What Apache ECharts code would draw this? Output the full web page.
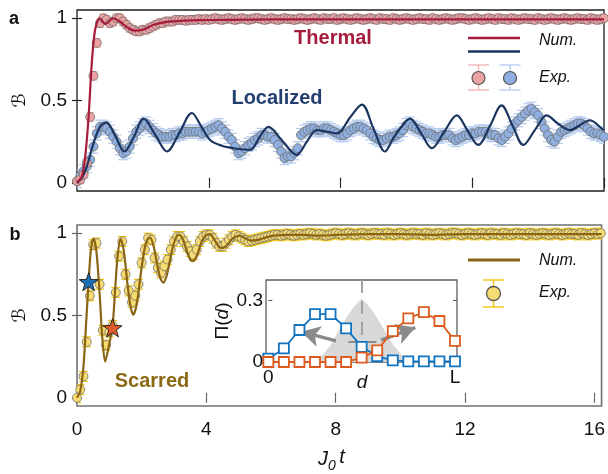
<!DOCTYPE html>
<html>
<head>
<meta charset="utf-8">
<script src="https://cdn.jsdelivr.net/npm/echarts@6/dist/echarts.min.js"></script>
<style>
  html, body { margin: 0; padding: 0; background: #ffffff; }
  #chart { width: 608px; height: 474px; }
</style>
</head>
<body>
<div id="chart"></div>
<script>
// ---------------- data ----------------
// experimental sampling interval (units of J0 t)
const timeStep = 0.1;

// panel a, thermal initial state: measured B(t), t = 0, 0.1, ... 16.0
const thermalExp = [
  0.01,0.02,0.05,0.12,0.40,0.65,0.85,0.97,1.00,0.99,
  0.97,0.98,1.00,1.00,0.98,0.96,0.94,0.93,0.92,0.92,
  0.93,0.93,0.94,0.95,0.96,0.97,0.97,0.98,0.98,0.98,
  0.99,0.99,0.99,0.985,0.99,0.99,0.99,0.995,0.99,0.995,
  0.99,0.995,1.00,0.995,0.99,0.995,1.00,0.995,0.99,0.995,
  1.00,0.995,0.99,0.995,1.00,1.00,0.995,0.99,0.995,1.00,
  0.995,0.99,0.995,1.00,0.995,0.995,0.99,0.995,1.00,0.995,
  0.99,0.995,1.00,0.995,0.99,1.00,0.995,0.995,1.00,0.99,
  0.995,1.00,0.995,0.99,0.995,1.00,0.995,0.99,0.995,1.00,
  0.995,0.99,1.00,0.995,0.995,0.99,1.00,0.995,0.99,0.995,
  1.00,0.995,0.99,0.995,1.00,0.995,0.995,0.99,1.00,0.995,
  0.99,0.995,1.00,0.995,0.99,0.995,1.00,1.00,0.995,0.99,
  0.995,1.00,0.995,0.99,0.995,1.00,0.995,0.99,1.00,0.995,
  0.995,0.99,1.00,0.995,0.99,0.995,1.00,0.995,0.995,0.99,
  1.00,0.995,0.99,0.995,1.00,0.995,0.99,0.995,1.00,0.995,
  0.99,0.995,1.00,0.995,0.995,0.99,1.00,0.995,0.99,0.995,
  1.00
];

// panel a, localized initial state: measured B(t), t = 0 ... 16.0
const localizedExp = [
  0.01,0.04,0.07,0.10,0.14,0.22,0.30,0.34,0.34,0.33,
  0.31,0.28,0.25,0.21,0.18,0.19,0.22,0.27,0.31,0.33,
  0.35,0.36,0.34,0.32,0.30,0.29,0.28,0.28,0.28,0.29,
  0.29,0.30,0.30,0.31,0.31,0.31,0.31,0.31,0.30,
  0.31,0.32,0.33,0.34,0.35,0.33,0.31,0.28,0.26,0.22,
  0.18,0.19,0.21,0.23,0.24,0.26,0.27,0.29,0.29,0.28,
  0.28,0.26,0.23,0.19,0.15,0.16,0.16,0.18,0.21,0.29,
  0.31,0.32,0.33,0.33,0.32,0.32,0.33,0.33,0.32,0.31,
  0.30,0.29,0.29,0.30,0.32,0.33,0.34,0.34,0.33,0.32,
  0.30,0.28,0.27,0.26,0.26,0.27,0.28,0.28,0.29,0.30,
  0.32,0.35,0.36,0.34,0.33,0.32,0.31,0.30,0.30,0.29,
  0.28,0.28,0.29,0.29,0.29,0.27,0.26,0.27,0.28,0.29,
  0.29,0.30,0.30,0.31,0.31,0.31,0.30,0.29,0.29,
  0.27,0.26,0.28,0.30,0.33,0.36,0.38,0.40,0.42,0.44,
  0.45,0.43,0.41,0.37,0.33,0.29,0.26,0.25,0.28,0.31,
  0.32,0.33,0.34,0.35,0.36,0.36,0.35,0.33,0.31,0.30,
  0.30,0.29,0.28
];

// panel b, scarred initial state: measured B(t), t = 0 ... 16.2
const scarredExp = [
  0.00,0.05,0.13,0.34,0.62,0.93,0.94,0.69,0.41,0.32,
  0.40,0.44,0.64,0.86,0.95,0.75,0.65,0.58,0.62,0.69,
  0.82,0.90,0.97,0.96,0.85,0.79,0.76,0.80,0.84,0.90,
  0.95,0.98,0.98,0.95,0.92,0.89,0.87,0.90,0.95,0.98,
  0.99,0.99,0.97,0.94,0.92,0.92,0.94,0.96,0.98,0.99,
  0.98,0.97,0.96,0.95,0.955,0.96,0.965,0.97,0.975,0.98,
  0.985,0.99,0.99,0.985,0.99,0.995,0.99,0.985,0.99,0.995,
  0.99,0.995,1.00,0.995,0.99,0.995,0.99,0.985,0.99,0.995,
  1.00,0.995,0.99,0.995,1.00,0.995,0.99,0.995,1.00,0.995,
  0.99,0.995,1.00,0.995,0.995,0.99,1.00,0.995,0.99,0.995,
  1.00,0.995,0.99,0.995,1.00,0.995,0.995,0.99,1.00,0.995,
  0.99,0.995,1.00,0.995,0.99,0.995,1.00,1.00,0.995,0.99,
  0.995,1.00,0.995,0.99,0.995,1.00,0.995,0.99,1.00,0.995,
  0.995,0.99,1.00,0.995,0.99,0.995,1.00,0.995,0.995,0.99,
  1.00,0.995,0.99,0.995,1.00,0.995,0.99,0.995,1.00,0.995,
  0.99,0.995,1.00,0.995,0.995,0.99,1.00,0.995,0.99,0.995,
  1.00,0.995,1.00
];

// half-heights of the experimental error bars
const thermalErr = 0.025;
const localizedErr = 0.04;
const scarredErr = 0.03;

// numerical simulations [t, B]
const thermalNum = [
  [0,0],[0.15,0.04],[0.25,0.16],[0.35,0.395],[0.45,0.73],[0.55,0.93],[0.69,1.0],
  [0.86,0.965],[1.1,1.0],[1.3,0.98],[1.52,0.945],[1.75,0.925],[2.0,0.93],[2.33,0.96],
  [2.73,0.978],[3.24,0.985],[3.74,0.988],[4.5,0.99],[6,0.993],[8,0.993],[10,0.993],
  [12,0.993],[14,0.993],[16,0.993]
];
const localizedNum = [
  [0,0],[0.15,0.03],[0.3,0.10],[0.5,0.24],[0.7,0.34],[0.89,0.367],[1.15,0.29],[1.44,0.19],
  [1.73,0.28],[2.02,0.39],[2.38,0.29],[2.73,0.19],[3.1,0.30],[3.49,0.424],[3.74,0.354],
  [4.04,0.26],[4.4,0.225],[4.75,0.21],[5.26,0.20],[5.55,0.28],[5.81,0.34],[6.25,0.25],
  [6.67,0.17],[6.98,0.25],[7.28,0.32],[7.6,0.31],[7.89,0.30],[8.3,0.40],[8.65,0.475],
  [9.0,0.33],[9.35,0.19],[9.6,0.27],[9.81,0.33],[10.11,0.39],[10.45,0.30],[10.77,0.21],
  [11.15,0.31],[11.53,0.41],[11.85,0.32],[12.18,0.23],[12.55,0.35],[12.89,0.47],
  [13.22,0.35],[13.55,0.23],[13.9,0.32],[14.26,0.41],[14.6,0.36],[14.97,0.32],
  [15.27,0.35],[15.57,0.38],[15.93,0.33],[16.0,0.32]
];
const scarredNum = [
  [0,0],[0.1,0.04],[0.2,0.19],[0.29,0.48],[0.36,0.705],[0.43,0.90],[0.51,0.968],[0.6,0.89],
  [0.7,0.63],[0.78,0.37],[0.87,0.22],[0.97,0.30],[1.1,0.44],[1.18,0.66],[1.26,0.87],
  [1.35,0.964],[1.45,0.89],[1.55,0.71],[1.65,0.56],[1.74,0.504],[1.85,0.57],[1.95,0.72],
  [2.05,0.86],[2.15,0.95],[2.26,0.974],[2.37,0.92],[2.47,0.82],[2.57,0.73],[2.67,0.70],
  [2.77,0.74],[2.88,0.84],[2.98,0.93],[3.08,0.98],[3.18,0.99],[3.3,0.95],[3.4,0.89],
  [3.5,0.84],[3.59,0.83],[3.7,0.86],[3.82,0.93],[3.95,0.98],[4.1,0.994],[4.25,0.96],
  [4.38,0.92],[4.51,0.91],[4.65,0.93],[4.8,0.965],[5.02,0.985],[5.2,0.97],[5.38,0.955],
  [5.6,0.96],[5.85,0.975],[6.1,0.985],[6.5,0.99],[7,0.99],[7.5,0.985],[8,0.99],[9,0.995],
  [10,0.995],[11,0.99],[12,0.995],[13,0.995],[14,0.995],[15,0.995],[16.22,0.995]
];

// the two marked instants of the scarred evolution [t, B]
const starBlue = [0.36, 0.705];
const starOrange = [1.10, 0.425];

// axis ticks
const timeTicks = [0, 4, 8, 12, 16];
const bTicks = [0, 0.5, 1];

// inset: site distribution Pi(d) at the two marked instants
const sites = [0, 1, 2, 3, 4, 5, 6, 7, 8, 9, 10, 11, 12];
const piBlue = [0.016, 0.066, 0.156, 0.234, 0.234, 0.164, 0.074, 0.028, 0.008, 0.003, 0.003, 0.003, 0.003];
const piOrange = [0, 0, 0, 0, 0, 0, 0.021, 0.057, 0.151, 0.213, 0.243, 0.200, 0.103];
// inset: shaded initial profile
const shadeD = [3, 3.5, 4, 4.5, 5, 5.5, 6, 6.5, 7, 7.5, 8, 8.5, 9];
const shadeVal = [0, 0.035, 0.08, 0.15, 0.215, 0.27, 0.31, 0.27, 0.215, 0.15, 0.085, 0.04, 0];
const insetTicksX = [0, 12];
const insetTicksY = [0, 0.3];
// inset guides: centre line, spread bar, two arrows
const centreLine = [[6, 0.4], [6, 0.05]];
const spreadBar = [[5.15, 0.098], [6.95, 0.098]];
const arrowLeft = [[4.35, 0.103], [2.1, 0.148]];
const arrowRight = [[7.25, 0.107], [9.45, 0.168]];

// ---------------- helpers ----------------
const FONT = '"Liberation Sans", Arial, Helvetica, sans-serif';

function withTime(values, err) {
  return values.map((v, i) => [Math.round(i * timeStep * 100) / 100, v, err]);
}

function errorBars(capHalf) {
  return function (params, api) {
    const x = api.value(0), y = api.value(1), e = api.value(2);
    const top = api.coord([x, y + e]);
    const bot = api.coord([x, y - e]);
    const style = { stroke: api.visual('color'), lineWidth: 1.2, fill: null };
    return {
      type: 'group',
      children: [
        { type: 'line', shape: { x1: top[0], y1: top[1], x2: bot[0], y2: bot[1] }, style },
        { type: 'line', shape: { x1: top[0] - capHalf, y1: top[1], x2: top[0] + capHalf, y2: top[1] }, style },
        { type: 'line', shape: { x1: bot[0] - capHalf, y1: bot[1], x2: bot[0] + capHalf, y2: bot[1] }, style }
      ]
    };
  };
}

function zip(a, b) { return a.map((v, i) => [v, b[i]]); }

const starPath = 'path://M0,-10L2.35,-3.24L9.51,-3.09L3.8,1.24L5.88,8.09L0,4L-5.88,8.09L-3.8,1.24L-9.51,-3.09L-2.35,-3.24Z';

// colours
const C = {
  thermal: '#a51c3c', thermalDot: '#eba2a2', thermalBar: '#f2b0b0',
  local: '#1c355f', localDot: '#8eafe0', localBar: '#b4cbf0',
  scar: '#8a6514', scarDot: '#f7dc72', scarBar: '#f1c40f',
  dotEdge: '#6e6e6e',
  piBlue: '#1273be', piOrange: '#dc5a1e'
};

function timeAxis(grid, pos, max, color, labels) {
  return {
    type: 'value', gridIndex: grid, position: pos, min: 0, max: max,
    axisLine: { show: false },
    axisTick: { show: true, inside: true, length: 5, customValues: timeTicks, lineStyle: { color: color, width: 1.2 } },
    axisLabel: labels ? { show: true, customValues: timeTicks, fontSize: 19, color: '#111', fontFamily: FONT, margin: 14 } : { show: false },
    splitLine: { show: false }
  };
}
function bAxis(grid, pos, color, labels) {
  const ax = {
    type: 'value', gridIndex: grid, position: pos, min: -0.05, max: 1.05,
    axisLine: { show: false },
    axisTick: { show: true, inside: true, length: 5, customValues: bTicks, lineStyle: { color: color, width: 1.2 } },
    axisLabel: labels ? { show: true, customValues: bTicks, fontSize: 19, color: '#111', fontFamily: FONT, margin: 10 } : { show: false },
    splitLine: { show: false }
  };
  if (labels) {
    ax.name = '\u212C';
    ax.nameLocation = 'middle';
    ax.nameRotate = 90;
    ax.nameGap = 45;
    ax.nameTextStyle = { fontSize: 18, fontFamily: '"DejaVu Sans", sans-serif', color: '#111' };
  }
  return ax;
}

const option = {
  animation: false,
  backgroundColor: '#ffffff',
  grid: [
    { left: 77, top: 10, width: 527, height: 181, show: true, borderColor: '#1e1e1e', borderWidth: 1.3, backgroundColor: 'transparent' },
    { left: 77, top: 225, width: 527, height: 181, show: true, borderColor: '#707070', borderWidth: 1.6, backgroundColor: 'transparent' },
    { left: 266, top: 280, width: 191, height: 82, show: true, borderColor: '#5e5e5e', borderWidth: 1.3, backgroundColor: '#ffffff', z: 3 }
  ],
  xAxis: [
    timeAxis(0, 'bottom', 16, '#222', false),
    timeAxis(0, 'top', 16, '#222', false),
    timeAxis(1, 'bottom', 16.22, '#666', true),
    timeAxis(1, 'top', 16.22, '#666', false),
    {
      type: 'value', gridIndex: 2, position: 'bottom', min: -0.15, max: 12.13, z: 4,
      axisLine: { show: false },
      axisTick: { show: false },
      axisLabel: {
        show: true, customValues: insetTicksX, margin: 6, fontSize: 19, color: '#111', fontFamily: FONT,
        formatter: v => (v === 12 ? 'L' : String(v))
      },
      splitLine: { show: false }
    }
  ],
  yAxis: [
    bAxis(0, 'left', '#222', true),
    bAxis(0, 'right', '#222', false),
    bAxis(1, 'left', '#666', true),
    bAxis(1, 'right', '#666', false),
    {
      type: 'value', gridIndex: 2, position: 'left', min: 0, max: 0.4, z: 4,
      axisLine: { show: false },
      axisTick: { show: true, inside: true, length: 4, customValues: [0.3], lineStyle: { color: '#555' } },
      axisLabel: { show: true, customValues: insetTicksY, margin: 3, fontSize: 19, color: '#111', fontFamily: FONT },
      splitLine: { show: false },
      name: '{n|\u03A0(}{i|d}{n|)}', nameLocation: 'middle', nameRotate: 90, nameGap: 30,
      nameTextStyle: {
        rich: {
          n: { fontSize: 19, fontFamily: FONT, color: '#111' },
          i: { fontSize: 19, fontFamily: FONT, fontStyle: 'italic', color: '#111' }
        }
      }
    },
    {
      type: 'value', gridIndex: 2, position: 'right', min: 0, max: 0.4, z: 4,
      axisLine: { show: false },
      axisTick: { show: true, inside: true, length: 4, customValues: [0.3], lineStyle: { color: '#555' } },
      axisLabel: { show: false },
      splitLine: { show: false }
    }
  ],
  series: [
    // ---- panel a ----
    {
      type: 'custom', name: 'Localized Exp. error', xAxisIndex: 0, yAxisIndex: 0, z: 2, clip: true,
      renderItem: errorBars(5), itemStyle: { color: C.localBar },
      encode: { x: 0, y: 1 }, data: withTime(localizedExp, localizedErr)
    },
    {
      type: 'scatter', name: 'Localized Exp.', xAxisIndex: 0, yAxisIndex: 0, z: 3,
      symbolSize: 9, itemStyle: { color: C.localDot, borderColor: C.dotEdge, borderWidth: 0.8, opacity: 1 },
      data: withTime(localizedExp, localizedErr).map(d => [d[0], d[1]])
    },
    {
      type: 'custom', name: 'Thermal Exp. error', xAxisIndex: 0, yAxisIndex: 0, z: 2, clip: true,
      renderItem: errorBars(4), itemStyle: { color: C.thermalBar },
      encode: { x: 0, y: 1 }, data: withTime(thermalExp, thermalErr)
    },
    {
      type: 'scatter', name: 'Thermal Exp.', xAxisIndex: 0, yAxisIndex: 0, z: 3,
      symbolSize: 9, itemStyle: { color: C.thermalDot, borderColor: C.dotEdge, borderWidth: 0.8, opacity: 1 },
      data: withTime(thermalExp, thermalErr).map(d => [d[0], d[1]])
    },
    {
      type: 'line', name: 'Localized Num.', xAxisIndex: 0, yAxisIndex: 0, z: 5,
      showSymbol: false, symbol: 'none', smooth: 0.35,
      lineStyle: { color: C.local, width: 2.2 }, data: localizedNum
    },
    {
      type: 'line', name: 'Thermal Num.', xAxisIndex: 0, yAxisIndex: 0, z: 5,
      showSymbol: false, symbol: 'none', smooth: 0.3,
      lineStyle: { color: C.thermal, width: 2.2 }, data: thermalNum
    },
    // ---- panel b ----
    {
      type: 'custom', name: 'Scarred Exp. error', xAxisIndex: 2, yAxisIndex: 2, z: 2, clip: true,
      renderItem: errorBars(4.5), itemStyle: { color: C.scarBar },
      encode: { x: 0, y: 1 }, data: withTime(scarredExp, scarredErr)
    },
    {
      type: 'scatter', name: 'Scarred Exp.', xAxisIndex: 2, yAxisIndex: 2, z: 3,
      symbolSize: 9, itemStyle: { color: C.scarDot, borderColor: C.dotEdge, borderWidth: 0.8, opacity: 1 },
      data: withTime(scarredExp, scarredErr).map(d => [d[0], d[1]])
    },
    {
      type: 'line', name: 'Scarred Num.', xAxisIndex: 2, yAxisIndex: 2, z: 5,
      showSymbol: false, symbol: 'none', smooth: 0.3,
      lineStyle: { color: C.scar, width: 2.2 }, data: scarredNum
    },
    {
      type: 'scatter', name: 'Marked instants', xAxisIndex: 2, yAxisIndex: 2, z: 8,
      symbol: starPath, symbolKeepAspect: true, symbolSize: 19,
      itemStyle: { borderColor: '#1a1a1a', borderWidth: 0.9, opacity: 1 },
      data: [
        { value: starBlue, itemStyle: { color: '#1f6fb4' } },
        { value: starOrange, itemStyle: { color: '#e15a27' } }
      ]
    },
    // ---- inset ----
    {
      type: 'line', name: 'Initial profile', xAxisIndex: 4, yAxisIndex: 4, z: 10,
      symbol: 'none', showSymbol: false, smooth: false, clip: true,
      lineStyle: { width: 0, color: '#d8d8d8' },
      areaStyle: { color: '#d8d8d8', opacity: 1 },
      data: zip(shadeD, shadeVal),
      markLine: {
        silent: true, symbol: ['none', 'none'], label: { show: false }, z: 11,
        data: [
          [
            { coord: centreLine[0], lineStyle: { color: '#a3a3a3', width: 2, type: [13, 8] } },
            { coord: centreLine[1] }
          ],
          [
            { coord: spreadBar[0], lineStyle: { color: '#8c8c8c', width: 2, type: 'solid' } },
            { coord: spreadBar[1] }
          ],
          [
            { coord: arrowLeft[0], symbol: 'none', lineStyle: { color: '#8a8a8a', width: 3.5, type: 'solid' } },
            { coord: arrowLeft[1], symbol: 'arrow', symbolSize: [16, 19] }
          ],
          [
            { coord: arrowRight[0], symbol: 'none', lineStyle: { color: '#8a8a8a', width: 3.5, type: 'solid' } },
            { coord: arrowRight[1], symbol: 'arrow', symbolSize: [16, 19] }
          ]
        ]
      }
    },
    {
      type: 'line', name: 'Pi blue', xAxisIndex: 4, yAxisIndex: 4, z: 12, clip: false,
      symbol: 'rect', symbolSize: 10, showSymbol: true,
      lineStyle: { color: C.piBlue, width: 1.8 },
      itemStyle: { color: '#ffffff', borderColor: C.piBlue, borderWidth: 1.8 },
      data: zip(sites, piBlue)
    },
    {
      type: 'line', name: 'Pi orange', xAxisIndex: 4, yAxisIndex: 4, z: 13, clip: false,
      symbol: 'rect', symbolSize: 10, showSymbol: true,
      lineStyle: { color: C.piOrange, width: 1.8 },
      itemStyle: { color: '#ffffff', borderColor: C.piOrange, borderWidth: 1.8 },
      data: zip(sites, piOrange)
    }
  ],
  graphic: [
    // panel letters
    { type: 'text', x: 14, y: 19, style: { text: 'a', font: 'bold 18px ' + FONT, fill: '#111', align: 'center', verticalAlign: 'middle' } },
    { type: 'text', x: 15, y: 235, style: { text: 'b', font: 'bold 18px ' + FONT, fill: '#111', align: 'center', verticalAlign: 'middle' } },
    // curve labels
    { type: 'text', x: 333, y: 38, style: { text: 'Thermal', font: 'bold 20px ' + FONT, fill: C.thermal, align: 'center', verticalAlign: 'middle' } },
    { type: 'text', x: 277, y: 98, style: { text: 'Localized', font: 'bold 20px ' + FONT, fill: '#223f6f', align: 'center', verticalAlign: 'middle' } },
    { type: 'text', x: 152, y: 381, style: { text: 'Scarred', font: 'bold 20px ' + FONT, fill: '#8b6914', align: 'center', verticalAlign: 'middle' } },
    // inset site axis title
    { type: 'text', x: 362, y: 383, z: 20, style: { text: 'd', font: 'italic 19px ' + FONT, fill: '#111', align: 'center', verticalAlign: 'middle' } },
    // panel a legend
    { type: 'line', shape: { x1: 468, y1: 38, x2: 520, y2: 38 }, style: { stroke: C.thermal, lineWidth: 2.6 } },
    { type: 'line', shape: { x1: 468, y1: 51.5, x2: 520, y2: 51.5 }, style: { stroke: C.local, lineWidth: 2.6 } },
    { type: 'line', shape: { x1: 478.5, y1: 65, x2: 478.5, y2: 90 }, style: { stroke: C.thermalBar, lineWidth: 1.3 } },
    { type: 'line', shape: { x1: 468, y1: 65, x2: 489, y2: 65 }, style: { stroke: C.thermalBar, lineWidth: 1.3 } },
    { type: 'line', shape: { x1: 468, y1: 90, x2: 489, y2: 90 }, style: { stroke: C.thermalBar, lineWidth: 1.3 } },
    { type: 'circle', shape: { cx: 478.5, cy: 78, r: 6.5 }, style: { fill: C.thermalDot, stroke: '#555', lineWidth: 1.2 } },
    { type: 'line', shape: { x1: 510, y1: 65, x2: 510, y2: 90 }, style: { stroke: C.localBar, lineWidth: 1.3 } },
    { type: 'line', shape: { x1: 499.5, y1: 65, x2: 520.5, y2: 65 }, style: { stroke: C.localBar, lineWidth: 1.3 } },
    { type: 'line', shape: { x1: 499.5, y1: 90, x2: 520.5, y2: 90 }, style: { stroke: C.localBar, lineWidth: 1.3 } },
    { type: 'circle', shape: { cx: 510, cy: 78, r: 6.5 }, style: { fill: C.localDot, stroke: '#555', lineWidth: 1.2 } },
    { type: 'text', x: 539, y: 41, style: { text: 'Num.', font: 'italic 16px ' + FONT, fill: '#111', align: 'left', verticalAlign: 'middle' } },
    { type: 'text', x: 539, y: 78, style: { text: 'Exp.', font: 'italic 16px ' + FONT, fill: '#111', align: 'left', verticalAlign: 'middle' } },
    // panel b legend
    { type: 'line', shape: { x1: 468, y1: 260, x2: 520, y2: 260 }, style: { stroke: C.scar, lineWidth: 3 } },
    { type: 'line', shape: { x1: 493.5, y1: 280, x2: 493.5, y2: 307 }, style: { stroke: C.scarBar, lineWidth: 1.4 } },
    { type: 'line', shape: { x1: 483, y1: 280, x2: 504, y2: 280 }, style: { stroke: C.scarBar, lineWidth: 1.4 } },
    { type: 'line', shape: { x1: 483, y1: 307, x2: 504, y2: 307 }, style: { stroke: C.scarBar, lineWidth: 1.4 } },
    { type: 'circle', shape: { cx: 493.5, cy: 293.5, r: 7 }, style: { fill: C.scarDot, stroke: '#555', lineWidth: 1.3 } },
    { type: 'text', x: 539, y: 261, style: { text: 'Num.', font: 'italic 16px ' + FONT, fill: '#111', align: 'left', verticalAlign: 'middle' } },
    { type: 'text', x: 539, y: 293, style: { text: 'Exp.', font: 'italic 16px ' + FONT, fill: '#111', align: 'left', verticalAlign: 'middle' } },
    // time axis title J0 t
    { type: 'text', x: 323, y: 459, style: { text: 'J', font: 'italic 20px ' + FONT, fill: '#111', align: 'center', verticalAlign: 'middle' } },
    { type: 'text', x: 332, y: 466, style: { text: '0', font: 'italic 14px ' + FONT, fill: '#111', align: 'center', verticalAlign: 'middle' } },
    { type: 'text', x: 342, y: 457, style: { text: 't', font: 'italic 20px ' + FONT, fill: '#111', align: 'center', verticalAlign: 'middle' } }
  ]
};

const chart = echarts.init(document.getElementById('chart'), null, { renderer: 'canvas' });
chart.setOption(option);
</script>
</body>
</html>
